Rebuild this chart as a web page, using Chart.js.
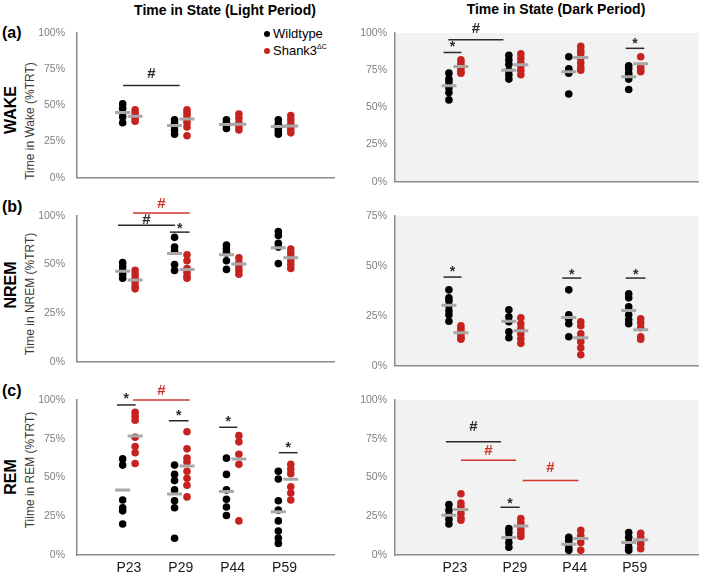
<!DOCTYPE html>
<html>
<head>
<meta charset="utf-8">
<script src="https://cdn.jsdelivr.net/npm/chart.js@4.4.1/dist/chart.umd.min.js"></script>
<style>
  body { margin: 0; background: #fff; }
  #fig { position: relative; width: 709px; height: 575px; overflow: hidden; font-family: "Liberation Sans", Arial, sans-serif; }
  #fig canvas { position: absolute; }
  .txt { position: absolute; white-space: nowrap; color: #000; }
  .head { font-weight: bold; font-size: 14px; transform: translate(-50%, -50%); }
  .letter { font-weight: bold; font-size: 16px; transform: translateY(-50%); }
  .row { font-weight: bold; font-size: 16px; transform: translate(-50%, -50%) rotate(-90deg); }
  .ytitle { font-size: 12px; color: #3a3a3a; transform: translate(-50%, -50%) rotate(-90deg); }
  .leg { font-size: 13px; transform: translateY(-50%); }
  .leg sup { font-size: 7px; }
  .dot { position: absolute; width: 6px; height: 6px; border-radius: 50%; transform: translate(-50%, -50%); }
</style>
</head>
<body>
<div id="fig">
  <div class="txt head" style="left:225px; top:10px;">Time in State (Light Period)</div>
  <div class="txt head" style="left:556px; top:9px;">Time in State (Dark Period)</div>

  <div class="txt letter" style="left:2px; top:33px;">(a)</div>
  <div class="txt letter" style="left:2px; top:207px;">(b)</div>
  <div class="txt letter" style="left:2px; top:391px;">(c)</div>

  <div class="txt row" style="left:11px; top:110px;">WAKE</div>
  <div class="txt row" style="left:11px; top:285px;">NREM</div>
  <div class="txt row" style="left:11px; top:477px;">REM</div>

  <div class="txt ytitle" style="left:30px; top:121px;">Time in Wake (%TRT)</div>
  <div class="txt ytitle" style="left:30px; top:294px;">Time in NREM (%TRT)</div>
  <div class="txt ytitle" style="left:30px; top:470px;">Tiime in REM (%TRT)</div>

  <div class="dot" style="left:267px; top:34px; background:#000;"></div>
  <div class="txt leg" style="left:273px; top:33px;">Wildtype</div>
  <div class="dot" style="left:267px; top:51px; background:#c62320;"></div>
  <div class="txt leg" style="left:273px; top:50px;">Shank3<sup>ΔC</sup></div>

  <canvas id="wakeLight" width="325" height="185" style="left:20px; top:11px;"></canvas>
  <canvas id="wakeDark" width="364" height="185" style="left:345px; top:11px;"></canvas>
  <canvas id="nremLight" width="325" height="186" style="left:20px; top:194px;"></canvas>
  <canvas id="nremDark" width="364" height="186" style="left:345px; top:194px;"></canvas>
  <canvas id="remLight" width="325" height="197" style="left:20px; top:378px;"></canvas>
  <canvas id="remDark" width="364" height="197" style="left:345px; top:378px;"></canvas>
</div>

<script>
// Âges (catégories)
const ages = ['P23', 'P29', 'P44', 'P59'];

// WAKE - période claire
const wakeLightWT = [[51, 48, 45, 42, 38], [40, 38, 36, 33, 30], [40, 38, 36, 34], [40, 37, 34, 32, 30]];
const wakeLightKO = [[47, 45, 43, 41, 39], [47, 45, 43, 40, 38, 35, 29], [44, 41, 38, 35, 33], [43, 40, 37, 35, 33, 31]];
const wakeLightWTMean = [45, 36, 36.8, 35.3];
const wakeLightKOMean = [42.4, 40.6, 37, 35.7];

// WAKE - période sombre
const wakeDarkWT = [[73, 69, 67, 63, 60, 55], [85, 82, 79, 75, 72, 69], [84, 76, 75, 73, 59], [78, 76, 73, 71, 69, 62]];
const wakeDarkKO = [[82, 80, 78, 76, 74, 73], [86, 83, 80, 78, 75, 72], [91, 88, 86, 83, 80, 77, 75], [84, 77, 75, 74]];
const wakeDarkWTMean = [64.5, 75, 74, 70.5];
const wakeDarkKOMean = [77.4, 78.7, 83.6, 79.4];

// NREM - période claire
const nremLightWT = [[51, 49, 47, 45, 43], [64, 59, 57, 50, 47], [60, 58, 56, 52, 47.5], [67, 65, 61, 59, 50.5]];
const nremLightKO = [[47, 45, 43, 41, 39, 37.5], [55, 52, 48, 46, 44, 43], [53.5, 51, 49, 47, 45], [58, 56, 54, 52, 50, 48]];
const nremLightWTMean = [46.6, 55.7, 55.1, 58.6];
const nremLightKOMean = [42.1, 47.4, 50.3, 53.5];

// NREM - période sombre
const nremDarkWT = [[38, 34, 32.5, 30, 27.5, 25.5, 22.3], [28, 24.5, 22, 17, 14], [38, 25.5, 23.5, 21, 14.5], [36, 34, 29.5, 25.5, 23, 21]];
const nremDarkKO = [[20, 18.5, 17, 15.5, 14, 13.3], [24, 21, 18.5, 16, 13.5, 11.2], [22, 20, 16, 14, 12, 9, 5.5], [23.5, 21.5, 19, 14.5, 13.3]];
const nremDarkWTMean = [30.3, 22.3, 24.2, 27.6];
const nremDarkKOMean = [16.5, 17.5, 14, 18];

// REM - période claire
const remLightWT = [[62, 58, 35.5, 30.5, 28.5, 20], [58, 52, 48, 42, 35, 30.5, 10.8], [62.5, 52, 42, 36, 31, 25.5], [54, 49, 35, 29, 22, 15.5, 11, 7.5]];
const remLightKO = [[92, 89.5, 87, 76, 70, 66, 59], [79.5, 68.5, 62.5, 60, 54, 49.5, 45, 37.5], [77, 73, 65, 58.5, 22], [58.5, 55.5, 52.5, 44, 40, 35.5]];
const remLightWTMean = [41.9, 39.4, 40.9, 27.9];
const remLightKOMean = [76.8, 57.4, 61.9, 48.8];

// REM - période sombre
const remDarkWT = [[32.5, 29, 26, 23, 20], [17, 14.5, 11.5, 8, 5], [11.5, 9.5, 7, 4.5, 3], [14.5, 11.5, 8, 5, 3]];
const remDarkKO = [[39.5, 33.5, 31.5, 27, 24, 22.5], [23.5, 21, 19, 16.5, 14, 12], [16, 12.5, 8, 3], [14, 11.5, 9, 7, 4]];
const remDarkWTMean = [25.7, 11.3, 7, 8.1];
const remDarkKOMean = [29.3, 18.7, 10.6, 9.8];

// Graduations de l'axe Y
const ticks100 = [0, 25, 50, 75, 100];
const labels100 = ['0%', '25%', '50%', '75%', '100%'];
const ticks75 = [0, 25, 50, 75];
const labelsNremLight = ['0%', '25%', '50%', '100%'];
const labelsNremDark = ['0%', '25%', '50%', '75%'];

// Annotations de significativité : [de, à, y de la barre, y du symbole, symbole, couleur]
const BLACK = '#2b2b2b';
const RED = '#d0352c';
const wakeLightMarks = [[0.89, 1.98, 63.7, 71.5, '#', BLACK]];
const wakeDarkMarks = [[0.81, 1.11, 86.9, 92.3, '*', BLACK], [0.89, 1.81, 95.5, 102.6, '#', BLACK], [3.85, 4.16, 89.7, 94.4, '*', BLACK]];
const nremLightMarks = [[1.08, 2.17, 76.6, 81.3, '#', RED], [0.79, 1.89, 70.3, 72.9, '#', BLACK], [1.79, 2.17, 66.7, 69.8, '*', BLACK]];
const nremDarkMarks = [[0.81, 1.11, 44.4, 48.2, '*', BLACK], [2.79, 3.11, 43.9, 47.1, '*', BLACK], [3.85, 4.18, 43.9, 47.1, '*', BLACK]];
const remLightMarks = [[0.77, 1.13, 96.8, 102.6, '*', BLACK], [1.08, 2.17, 100, 106, '#', RED], [1.77, 2.15, 86.6, 91.8, '*', BLACK], [2.74, 3.09, 82.4, 87.5, '*', BLACK], [3.89, 4.25, 66, 71, '*', BLACK]];
const remDarkMarks = [[0.85, 1.77, 73.1, 82.4, '#', BLACK], [1.10, 2.02, 61.1, 67.5, '#', RED], [2.13, 3.06, 48, 56.2, '#', RED], [1.76, 2.08, 30.8, 35, '*', BLACK]];

Chart.defaults.font.family = '"Liberation Sans", Arial, sans-serif';

const AXIS_COLOR = '#8c8c8c';
const WT_COLOR = '#000000';
const KO_COLOR = '#c62320';
const MEAN_COLOR = '#a8a8a8';

// Fond gris de la zone de tracé (panneaux de droite)
const shadePlugin = {
    id: 'shade',
    beforeDraw(chart, args, opts) {
        if (!opts.color) return;
        const { ctx, chartArea } = chart;
        ctx.save();
        ctx.fillStyle = opts.color;
        ctx.fillRect(chartArea.left, chartArea.top, chartArea.right - chartArea.left, chartArea.bottom - chartArea.top);
        ctx.restore();
    }
};

// Barres et symboles de significativité
const marksPlugin = {
    id: 'marks',
    afterDatasetsDraw(chart, args, opts) {
        const { ctx, scales: { x, y } } = chart;
        ctx.save();
        (opts.items || []).forEach(([from, to, yLine, yText, mark, color]) => {
            const py = y.getPixelForValue(yLine);
            ctx.strokeStyle = color;
            ctx.lineWidth = 1.5;
            ctx.beginPath();
            ctx.moveTo(x.getPixelForValue(from), py);
            ctx.lineTo(x.getPixelForValue(to), py);
            ctx.stroke();
            ctx.fillStyle = color;
            ctx.font = mark === '#' ? 'bold 15px "Liberation Sans", Arial, sans-serif' : 'bold 14px "Liberation Sans", Arial, sans-serif';
            ctx.textAlign = 'center';
            ctx.textBaseline = 'middle';
            const shift = mark === '*' ? 3 : 0;
            ctx.fillText(mark, x.getPixelForValue((from + to) / 2), y.getPixelForValue(yText) + shift);
        });
        ctx.restore();
    }
};

function dots(groups, offset) {
    const pts = [];
    groups.forEach((vals, i) => vals.forEach(v => pts.push({ x: i + 1 + offset, y: v })));
    return pts;
}

function means(vals, offset) {
    return vals.map((v, i) => ({ x: i + 1 + offset, y: v }));
}

function makePanel(id, cfg) {
    const off = cfg.offset;
    new Chart(document.getElementById(id), {
        type: 'scatter',
        data: {
            datasets: [
                { data: means(cfg.wtMean, -off), pointStyle: 'line', pointRadius: 7.5, borderColor: MEAN_COLOR, pointBorderWidth: 3, order: 0 },
                { data: means(cfg.koMean, off), pointStyle: 'line', pointRadius: 7.5, borderColor: MEAN_COLOR, pointBorderWidth: 3, order: 0 },
                { data: dots(cfg.wt, -off), pointRadius: 3.8, backgroundColor: WT_COLOR, borderWidth: 0, order: 1 },
                { data: dots(cfg.ko, off), pointRadius: 3.8, backgroundColor: KO_COLOR, borderWidth: 0, order: 1 }
            ]
        },
        options: {
            responsive: false,
            animation: false,
            devicePixelRatio: 1,
            layout: { padding: { top: 22, right: cfg.padRight, left: 0, bottom: 0 } },
            plugins: {
                legend: { display: false },
                tooltip: { enabled: false },
                shade: { color: cfg.shade },
                marks: { items: cfg.marks }
            },
            scales: {
                x: {
                    type: 'linear',
                    min: 0,
                    max: cfg.xMax,
                    afterBuildTicks: axis => { axis.ticks = [1, 2, 3, 4].map(v => ({ value: v })); },
                    afterFit: axis => { axis.height = cfg.showX ? 20 : 8; },
                    ticks: {
                        display: cfg.showX,
                        callback: v => ages[v - 1],
                        color: '#1a1a1a',
                        font: { size: 14 },
                        padding: 5,
                        maxRotation: 0
                    },
                    grid: { display: false, drawTicks: false },
                    border: { color: AXIS_COLOR, width: 1.5 }
                },
                y: {
                    min: 0,
                    max: cfg.yMax,
                    afterBuildTicks: axis => { axis.ticks = cfg.yTicks.map(v => ({ value: v })); },
                    afterFit: axis => { axis.width = cfg.yWidth; },
                    ticks: {
                        callback: (v, i) => cfg.yLabels[i],
                        color: '#808080',
                        font: { size: 10.5 },
                        padding: cfg.yPad
                    },
                    grid: { display: false, drawTicks: false },
                    border: { color: AXIS_COLOR, width: 1.5 }
                }
            }
        },
        plugins: [shadePlugin, marksPlugin]
    });
}

const left = { offset: 0.12, xMax: 263 / 53, yWidth: 57, yPad: 12, padRight: 5, shade: null };
const right = { offset: 0.1, xMax: 314 / 62, yWidth: 50, yPad: 8, padRight: 0, shade: '#f2f2f2' };

makePanel('wakeLight', { ...left, wt: wakeLightWT, ko: wakeLightKO, wtMean: wakeLightWTMean, koMean: wakeLightKOMean, yMax: 100, yTicks: ticks100, yLabels: labels100, marks: wakeLightMarks, showX: false });
makePanel('wakeDark', { ...right, wt: wakeDarkWT, ko: wakeDarkKO, wtMean: wakeDarkWTMean, koMean: wakeDarkKOMean, yMax: 100, yTicks: ticks100, yLabels: labels100, marks: wakeDarkMarks, showX: false });
makePanel('nremLight', { ...left, wt: nremLightWT, ko: nremLightKO, wtMean: nremLightWTMean, koMean: nremLightKOMean, yMax: 75, yTicks: ticks75, yLabels: labelsNremLight, marks: nremLightMarks, showX: false });
makePanel('nremDark', { ...right, wt: nremDarkWT, ko: nremDarkKO, wtMean: nremDarkWTMean, koMean: nremDarkKOMean, yMax: 75, yTicks: ticks75, yLabels: labelsNremDark, marks: nremDarkMarks, showX: false });
makePanel('remLight', { ...left, wt: remLightWT, ko: remLightKO, wtMean: remLightWTMean, koMean: remLightKOMean, yMax: 100, yTicks: ticks100, yLabels: labels100, marks: remLightMarks, showX: true });
makePanel('remDark', { ...right, wt: remDarkWT, ko: remDarkKO, wtMean: remDarkWTMean, koMean: remDarkKOMean, yMax: 100, yTicks: ticks100, yLabels: labels100, marks: remDarkMarks, showX: true });
</script>
</body>
</html>
